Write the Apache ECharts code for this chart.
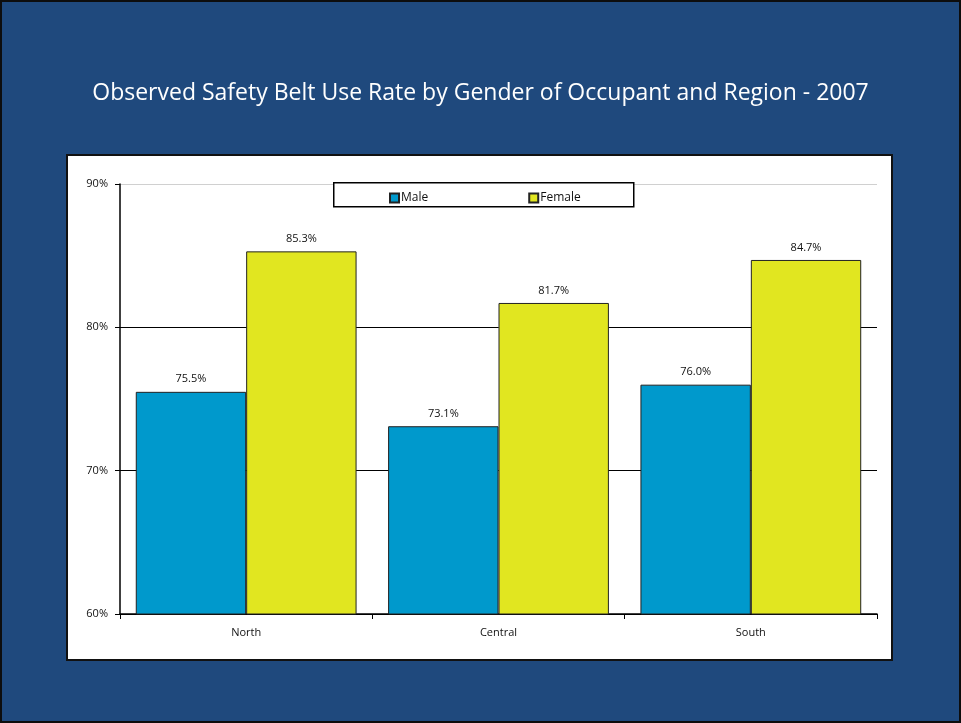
<!DOCTYPE html>
<html><head><meta charset="utf-8">
<script src="https://cdn.jsdelivr.net/npm/echarts@6/dist/echarts.min.js"></script>
<style>
html,body{margin:0;padding:0;background:#1F497D;}
#c{width:961px;height:723px;background:#1F497D;}
#frame{position:absolute;left:0;top:0;width:961px;height:723px;box-sizing:border-box;border:2px solid #0d0d0d;pointer-events:none;}
</style></head>
<body><div id="c"></div><div id="frame"></div>
<script>
const categories = ['North', 'Central', 'South'];
const maleValues = [75.5, 73.1, 76.0];
const femaleValues = [85.3, 81.7, 84.7];
const seriesNames = ['Male', 'Female'];
const titleText = 'Observed Safety Belt Use Rate by Gender of Occupant and Region - 2007';

const chart = echarts.init(document.getElementById('c'), null, {renderer: 'canvas'});
const FONT = '"Open Sans", "Noto Sans", sans-serif';
const labelFmt = p => p.value.toFixed(1) + '%';
chart.setOption({
  animation: false,
  textStyle: {fontFamily: FONT},
  title: {
    text: titleText, left: 'center', top: 77,
    textStyle: {color: '#fff', fontSize: 23, fontWeight: 'normal', fontFamily: FONT}
  },
  graphic: [
    {type: 'rect', left: 66, top: 154, shape: {width: 825, height: 505},
     style: {fill: '#fff', stroke: '#111', lineWidth: 2}, z: -10},
    {type: 'rect', left: 333, top: 182, shape: {width: 300, height: 24},
     style: {fill: '#fff', stroke: '#000', lineWidth: 1.5}, z: 5}
  ],
  legend: {
    data: seriesNames, left: 384, top: 187, itemWidth: 9, itemHeight: 9, itemGap: 100,
    icon: 'rect', z: 10,
    textStyle: {fontSize: 12, color: '#111', fontFamily: FONT, padding: [0,0,0,-3]}
  },
  grid: {left: 120, right: 84, top: 184, bottom: 109},
  xAxis: {
    type: 'category', data: categories,
    axisLine: {lineStyle: {color: '#000', width: 1.5}},
    axisTick: {show: true, length: 5, lineStyle: {color: '#000'}},
    axisLabel: {color: '#111', fontSize: 11, margin: 13, fontFamily: FONT}
  },
  yAxis: {
    type: 'value', min: 60, max: 90, interval: 10,
    axisLine: {show: true, lineStyle: {color: '#000', width: 1.5}},
    axisTick: {show: true, length: 5, lineStyle: {color: '#000'}},
    axisLabel: {formatter: '{value}%', color: '#111', fontSize: 11, margin: 12, fontFamily: FONT},
    splitLine: {show: true, lineStyle: {color: ['#000', '#000', '#000', '#d0d0d0'], width: 1}}
  },
  series: [
    {name: 'Male', type: 'bar', data: maleValues, barGap: '0%', barCategoryGap: '12.5%',
     itemStyle: {color: '#0099CC', borderColor: '#222', borderWidth: 1},
     label: {show: true, position: 'top', distance: 7, formatter: labelFmt, color: '#111', fontSize: 11, fontFamily: FONT}},
    {name: 'Female', type: 'bar', data: femaleValues,
     itemStyle: {color: '#E1E620', borderColor: '#222', borderWidth: 1},
     label: {show: true, position: 'top', distance: 7, formatter: labelFmt, color: '#111', fontSize: 11, fontFamily: FONT}}
  ]
});
</script></body></html>
